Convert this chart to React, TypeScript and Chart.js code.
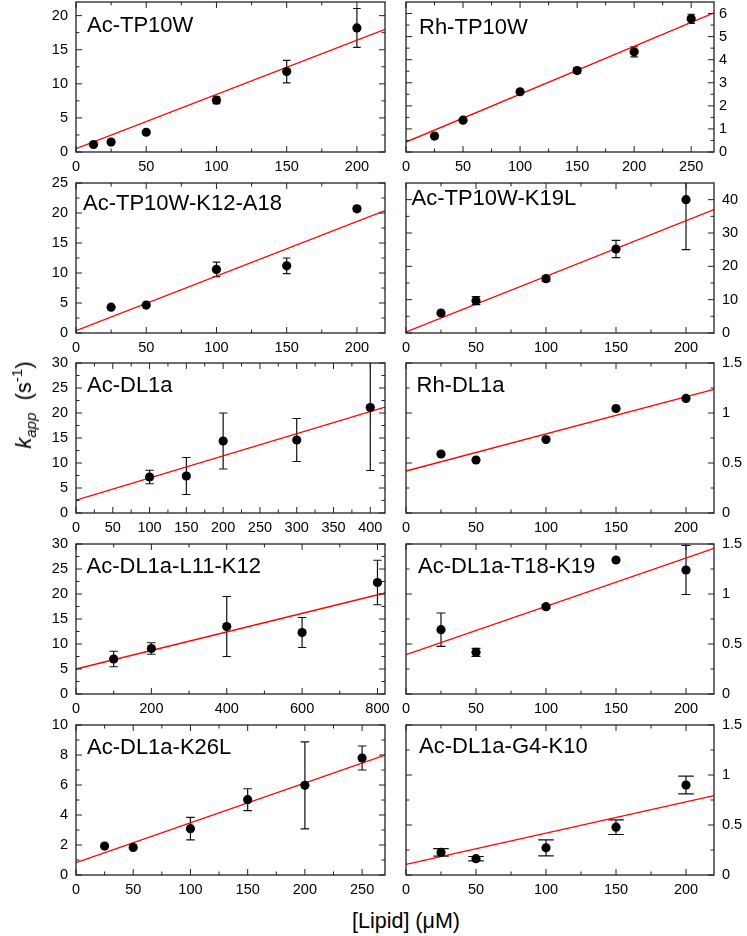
import React, { useEffect, useRef } from 'react';
import { Chart, registerables } from 'chart.js';

Chart.register(...registerables);

const FONT = "'Liberation Sans', Arial, Helvetica, sans-serif";

// ---------------- data ----------------
// Ac-TP10W
const acTP10W_x = [12.5, 25, 50, 100, 150, 200];
const acTP10W_y = [1.1, 1.45, 2.9, 7.6, 11.8, 18.2];
const acTP10W_err = [0, 0, 0, 0.5, 1.65, 2.85];
const acTP10W_fitX = [0, 220];
const acTP10W_fitY = [0.5, 18.0];

// Rh-TP10W
const rhTP10W_x = [25, 50, 100, 150, 200, 250];
const rhTP10W_y = [0.69, 1.38, 2.61, 3.53, 4.34, 5.77];
const rhTP10W_err = [0, 0, 0, 0.12, 0.22, 0.2];
const rhTP10W_fitX = [0, 270];
const rhTP10W_fitY = [0.43, 6.03];

// Ac-TP10W-K12-A18
const acK12A18_x = [25, 50, 100, 150, 200];
const acK12A18_y = [4.3, 4.65, 10.6, 11.2, 20.7];
const acK12A18_err = [0, 0, 1.2, 1.3, 0.4];
const acK12A18_fitX = [0, 220];
const acK12A18_fitY = [0.4, 20.4];

// Ac-TP10W-K19L
const acK19L_x = [25, 50, 100, 150, 200];
const acK19L_y = [6.0, 9.7, 16.3, 25.2, 40.0];
const acK19L_err = [0, 1.2, 0.8, 2.6, 15];
const acK19L_fitX = [0, 220];
const acK19L_fitY = [0.3, 37.0];

// Ac-DL1a
const acDL1a_x = [100, 150, 200, 300, 400];
const acDL1a_y = [7.2, 7.4, 14.4, 14.6, 21.1];
const acDL1a_err = [1.35, 3.7, 5.6, 4.3, 12.6];
const acDL1a_fitX = [0, 420];
const acDL1a_fitY = [2.55, 21.2];

// Rh-DL1a
const rhDL1a_x = [25, 50, 100, 150, 200];
const rhDL1a_y = [0.59, 0.53, 0.735, 1.045, 1.146];
const rhDL1a_err = [0, 0, 0, 0, 0];
const rhDL1a_fitX = [0, 220];
const rhDL1a_fitY = [0.42, 1.237];

// Ac-DL1a-L11-K12
const acL11K12_x = [100, 200, 400, 600, 800];
const acL11K12_y = [7.0, 9.1, 13.5, 12.3, 22.3];
const acL11K12_err = [1.55, 1.15, 6.0, 3.0, 4.45];
const acL11K12_fitX = [0, 820];
const acL11K12_fitY = [5.0, 20.2];

// Ac-DL1a-T18-K19
const acT18K19_x = [25, 50, 100, 150, 200];
const acT18K19_y = [0.643, 0.417, 0.873, 1.34, 1.24];
const acT18K19_err = [0.167, 0.04, 0.02, 0, 0.245];
const acT18K19_fitX = [0, 220];
const acT18K19_fitY = [0.393, 1.457];

// Ac-DL1a-K26L
const acK26L_x = [25, 50, 100, 150, 200, 250];
const acK26L_y = [1.93, 1.84, 3.09, 5.02, 5.98, 7.8];
const acK26L_err = [0, 0, 0.75, 0.73, 2.9, 0.8];
const acK26L_fitX = [0, 270];
const acK26L_fitY = [0.82, 8.0];

// Ac-DL1a-G4-K10
const acG4K10_x = [25, 50, 100, 150, 200];
const acG4K10_y = [0.226, 0.163, 0.272, 0.478, 0.9];
const acG4K10_err = [0.037, 0.022, 0.08, 0.073, 0.088];
const acG4K10_fitX = [0, 220];
const acG4K10_fitY = [0.106, 0.794];

// ---------------- tick labels ----------------
const xTicks200 = [0, 50, 100, 150, 200];
const xMinor200 = [25, 75, 125, 175];
const xTicks250 = [0, 50, 100, 150, 200, 250];
const xMinor250 = [25, 75, 125, 175, 225];
const xTicks400 = [0, 50, 100, 150, 200, 250, 300, 350, 400];
const xMinor400 = [25, 75, 125, 175, 225, 275, 325, 375];
const xTicks800 = [0, 200, 400, 600, 800];
const xMinor800 = [100, 300, 500, 700];

const yTicks20 = [0, 5, 10, 15, 20];
const yMinor20 = [2.5, 7.5, 12.5, 17.5];
const yTicks6 = [0, 1, 2, 3, 4, 5, 6];
const yMinor6 = [0.5, 1.5, 2.5, 3.5, 4.5, 5.5];
const yTicks25 = [0, 5, 10, 15, 20, 25];
const yMinor25 = [2.5, 7.5, 12.5, 17.5, 22.5];
const yTicks40 = [0, 10, 20, 30, 40];
const yMinor40 = [5, 15, 25, 35];
const yTicks30 = [0, 5, 10, 15, 20, 25, 30];
const yMinor30 = [2.5, 7.5, 12.5, 17.5, 22.5, 27.5];
const yTicks15 = [0, 0.5, 1, 1.5];
const yMinor15 = [0.25, 0.75, 1.25];
const yTicks10 = [0, 2, 4, 6, 8, 10];
const yMinor10 = [1, 3, 5, 7, 9];

type PanelCfg = {
  title: string;
  x: number[]; y: number[]; err: number[];
  fitX: number[]; fitY: number[];
  xMax: number; yMax: number;
  xTicks: number[]; xMinor: number[];
  yTicks: number[]; yMinor: number[];
  col: number; row: number;
  tdx: number; tdy: number; cap: number; yPad: number;
};

const panels: PanelCfg[] = [
  { title: 'Ac-TP10W', x: acTP10W_x, y: acTP10W_y, err: acTP10W_err, fitX: acTP10W_fitX, fitY: acTP10W_fitY,
    xMax: 220, yMax: 22, xTicks: xTicks200, xMinor: xMinor200, yTicks: yTicks20, yMinor: yMinor20,
    col: 0, row: 0, tdx: 11, tdy: 30, cap: 3.8, yPad: 8 },
  { title: 'Rh-TP10W', x: rhTP10W_x, y: rhTP10W_y, err: rhTP10W_err, fitX: rhTP10W_fitX, fitY: rhTP10W_fitY,
    xMax: 270, yMax: 6.5, xTicks: xTicks250, xMinor: xMinor250, yTicks: yTicks6, yMinor: yMinor6,
    col: 1, row: 0, tdx: 13, tdy: 32, cap: 3.8, yPad: 5 },
  { title: 'Ac-TP10W-K12-A18', x: acK12A18_x, y: acK12A18_y, err: acK12A18_err, fitX: acK12A18_fitX, fitY: acK12A18_fitY,
    xMax: 220, yMax: 25, xTicks: xTicks200, xMinor: xMinor200, yTicks: yTicks25, yMinor: yMinor25,
    col: 0, row: 1, tdx: 7, tdy: 27, cap: 3.8, yPad: 8 },
  { title: 'Ac-TP10W-K19L', x: acK19L_x, y: acK19L_y, err: acK19L_err, fitX: acK19L_fitX, fitY: acK19L_fitY,
    xMax: 220, yMax: 45, xTicks: xTicks200, xMinor: xMinor200, yTicks: yTicks40, yMinor: yMinor40,
    col: 1, row: 1, tdx: 5.5, tdy: 22, cap: 4.3, yPad: 8 },
  { title: 'Ac-DL1a', x: acDL1a_x, y: acDL1a_y, err: acDL1a_err, fitX: acDL1a_fitX, fitY: acDL1a_fitY,
    xMax: 420, yMax: 30, xTicks: xTicks400, xMinor: xMinor400, yTicks: yTicks30, yMinor: yMinor30,
    col: 0, row: 2, tdx: 11, tdy: 29, cap: 4.2, yPad: 8 },
  { title: 'Rh-DL1a', x: rhDL1a_x, y: rhDL1a_y, err: rhDL1a_err, fitX: rhDL1a_fitX, fitY: rhDL1a_fitY,
    xMax: 220, yMax: 1.5, xTicks: xTicks200, xMinor: xMinor200, yTicks: yTicks15, yMinor: yMinor15,
    col: 1, row: 2, tdx: 10.5, tdy: 29, cap: 4.2, yPad: 8 },
  { title: 'Ac-DL1a-L11-K12', x: acL11K12_x, y: acL11K12_y, err: acL11K12_err, fitX: acL11K12_fitX, fitY: acL11K12_fitY,
    xMax: 820, yMax: 30, xTicks: xTicks800, xMinor: xMinor800, yTicks: yTicks30, yMinor: yMinor30,
    col: 0, row: 3, tdx: 10.5, tdy: 28.5, cap: 4.2, yPad: 8 },
  { title: 'Ac-DL1a-T18-K19', x: acT18K19_x, y: acT18K19_y, err: acT18K19_err, fitX: acT18K19_fitX, fitY: acT18K19_fitY,
    xMax: 220, yMax: 1.5, xTicks: xTicks200, xMinor: xMinor200, yTicks: yTicks15, yMinor: yMinor15,
    col: 1, row: 3, tdx: 12, tdy: 29, cap: 4.5, yPad: 8 },
  { title: 'Ac-DL1a-K26L', x: acK26L_x, y: acK26L_y, err: acK26L_err, fitX: acK26L_fitX, fitY: acK26L_fitY,
    xMax: 270, yMax: 10, xTicks: xTicks250, xMinor: xMinor250, yTicks: yTicks10, yMinor: yMinor10,
    col: 0, row: 4, tdx: 11, tdy: 29, cap: 4.3, yPad: 8 },
  { title: 'Ac-DL1a-G4-K10', x: acG4K10_x, y: acG4K10_y, err: acG4K10_err, fitX: acG4K10_fitX, fitY: acG4K10_fitY,
    xMax: 220, yMax: 1.5, xTicks: xTicks200, xMinor: xMinor200, yTicks: yTicks15, yMinor: yMinor15,
    col: 1, row: 4, tdx: 13, tdy: 28, cap: 7.8, yPad: 8 },
];

// ---------------- layout ----------------
const ROW_TOPS = [2, 183, 363, 544, 725];
const PLOT_H = 150;
const PAD_TOP = 20;
const XAXIS_H = 28;
const COLS = [
  { canvasLeft: 0, canvasW: 400, padL: 0, padR: 15, yW: 76 },   // plot 76..385
  { canvasLeft: 394, canvasW: 353, padL: 12, padR: 0, yW: 33 }, // plot 406..714
];

function makePlugin(cfg: PanelCfg) {
  return {
    id: 'panelDeco',
    beforeDatasetsDraw(chart: any) {
      const ctx = chart.ctx;
      const ca = chart.chartArea;
      const xs = chart.scales.x;
      const ys = chart.scales.y;
      ctx.save();
      ctx.beginPath();
      ctx.rect(ca.left, ca.top, ca.right - ca.left, ca.bottom - ca.top);
      ctx.clip();
      ctx.strokeStyle = '#111';
      ctx.lineWidth = 1.2;
      cfg.x.forEach((xv, i) => {
        const e = cfg.err[i];
        if (!e) return;
        const px = xs.getPixelForValue(xv);
        const y1 = ys.getPixelForValue(cfg.y[i] + e);
        const y2 = ys.getPixelForValue(cfg.y[i] - e);
        ctx.beginPath();
        ctx.moveTo(px, y1); ctx.lineTo(px, y2);
        ctx.moveTo(px - cfg.cap, y1); ctx.lineTo(px + cfg.cap, y1);
        ctx.moveTo(px - cfg.cap, y2); ctx.lineTo(px + cfg.cap, y2);
        ctx.stroke();
      });
      ctx.restore();
    },
    afterDraw(chart: any) {
      const ctx = chart.ctx;
      const { left, right, top, bottom } = chart.chartArea;
      const xs = chart.scales.x;
      const ys = chart.scales.y;
      ctx.save();
      ctx.strokeStyle = '#222';
      ctx.lineWidth = 1;
      const MAJ = 6, MIN = 3.5;
      const xt = (vals: number[], len: number) => vals.forEach((v) => {
        const p = xs.getPixelForValue(v);
        ctx.beginPath();
        ctx.moveTo(p, bottom); ctx.lineTo(p, bottom - len);
        ctx.moveTo(p, top); ctx.lineTo(p, top + len);
        ctx.stroke();
      });
      const yt = (vals: number[], len: number) => vals.forEach((v) => {
        const p = ys.getPixelForValue(v);
        ctx.beginPath();
        ctx.moveTo(left, p); ctx.lineTo(left + len, p);
        ctx.moveTo(right, p); ctx.lineTo(right - len, p);
        ctx.stroke();
      });
      xt(cfg.xTicks, MAJ); xt(cfg.xMinor, MIN);
      yt(cfg.yTicks, MAJ); yt(cfg.yMinor, MIN);
      ctx.lineWidth = 1.3;
      ctx.strokeStyle = '#222';
      ctx.strokeRect(left, top, right - left, bottom - top);
      ctx.fillStyle = '#000';
      ctx.font = `22px ${FONT}`;
      ctx.textBaseline = 'alphabetic';
      ctx.textAlign = 'left';
      ctx.fillText(cfg.title, left + cfg.tdx, top + cfg.tdy);
      ctx.restore();
    },
  };
}

function Panel({ cfg }: { cfg: PanelCfg }) {
  const ref = useRef<HTMLCanvasElement | null>(null);
  const col = COLS[cfg.col];
  const canvasTop = ROW_TOPS[cfg.row] - PAD_TOP;
  const canvasH = PAD_TOP + PLOT_H + XAXIS_H;

  useEffect(() => {
    if (!ref.current) return;
    const tickFont = { family: FONT, size: 14.5 };
    const chart = new Chart(ref.current, {
      type: 'scatter',
      data: {
        datasets: [
          {
            type: 'scatter',
            data: cfg.x.map((v, i) => ({ x: v, y: cfg.y[i] })),
            backgroundColor: '#000',
            borderColor: '#000',
            borderWidth: 0,
            pointRadius: 4.6,
            pointHoverRadius: 4.6,
          } as any,
          {
            type: 'line',
            data: cfg.fitX.map((v, i) => ({ x: v, y: cfg.fitY[i] })),
            borderColor: '#ff0000',
            borderWidth: 1.3,
            pointRadius: 0,
            fill: false,
            tension: 0,
          } as any,
        ],
      },
      options: {
        responsive: false,
        animation: false,
        events: [],
        layout: { padding: { left: col.padL, right: col.padR, top: PAD_TOP, bottom: 0 } },
        plugins: { legend: { display: false }, tooltip: { enabled: false }, title: { display: false } },
        scales: {
          x: {
            type: 'linear',
            position: 'bottom',
            min: 0,
            max: cfg.xMax,
            grid: { display: false, drawTicks: false },
            border: { display: false },
            ticks: {
              font: tickFont, color: '#000', padding: 6.5, maxRotation: 0, autoSkip: false,
              callback: (v: any) => String(v),
            },
            afterBuildTicks: (s: any) => { s.ticks = cfg.xTicks.map((v) => ({ value: v })); },
            afterFit: (s: any) => { s.height = XAXIS_H; },
          },
          y: {
            type: 'linear',
            position: cfg.col === 0 ? 'left' : 'right',
            min: 0,
            max: cfg.yMax,
            grid: { display: false, drawTicks: false },
            border: { display: false },
            ticks: {
              font: tickFont, color: '#000', padding: cfg.yPad, autoSkip: false,
              callback: (v: any) => String(v),
            },
            afterBuildTicks: (s: any) => { s.ticks = cfg.yTicks.map((v) => ({ value: v })); },
            afterFit: (s: any) => { s.width = col.yW; },
          },
        },
      } as any,
      plugins: [makePlugin(cfg)],
    });
    return () => chart.destroy();
  }, []);

  return (
    <canvas
      ref={ref}
      width={col.canvasW}
      height={canvasH}
      style={{ position: 'absolute', left: col.canvasLeft, top: canvasTop, width: col.canvasW, height: canvasH }}
    />
  );
}

export default function App() {
  return (
    <div style={{ position: 'absolute', left: 0, top: 0, width: 747, height: 936, background: '#fff', overflow: 'hidden', fontFamily: FONT }}>
      {panels.map((p, i) => (
        <Panel key={i} cfg={p} />
      ))}
      <div style={{ position: 'absolute', left: 24, top: 405, width: 0, height: 0 }}>
        <div
          style={{
            position: 'absolute', left: 0, top: 0, whiteSpace: 'nowrap',
            transform: 'translate(-50%, -50%) rotate(-90deg)',
            fontSize: 22, lineHeight: '22px', color: '#000',
          }}
        >
          <i>k</i>
          <sub style={{ fontSize: 15, fontStyle: 'italic', verticalAlign: '-5px', lineHeight: 0 }}>app</sub>
          {'\u00a0\u00a0(s'}
          <sup style={{ fontSize: 15, verticalAlign: '9px', lineHeight: 0 }}>-1</sup>
          {')'}
        </div>
      </div>
      <div
        style={{
          position: 'absolute', left: 406, top: 911, transform: 'translateX(-50%)',
          whiteSpace: 'nowrap', fontSize: 21.5, lineHeight: '21px', color: '#000',
        }}
      >
        [Lipid] (μM)
      </div>
    </div>
  );
}
